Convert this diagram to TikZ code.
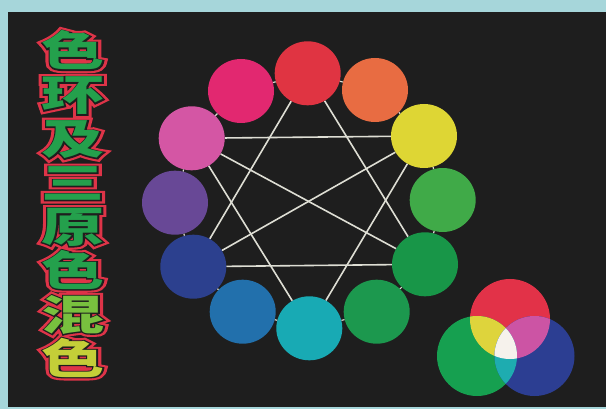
\documentclass[tikz,border=0pt]{standalone}
\usepackage{fontspec}
\newfontfamily\cjk{Noto Sans CJK SC}
\newfontfamily\cjkouter[FakeBold=15]{Noto Sans CJK SC}
\newfontfamily\cjkinner[FakeBold=5]{Noto Sans CJK SC}
\usetikzlibrary{shapes.geometric}
\definecolor{framec}{RGB}{166,214,218}
\definecolor{panelc}{RGB}{30,30,30}
\definecolor{linec}{RGB}{222,222,212}
\definecolor{tred}{RGB}{222,52,72}
\definecolor{tg}{RGB}{36,160,76}
\definecolor{tmix}{RGB}{120,192,62}
\definecolor{tyel}{RGB}{196,206,56}
\definecolor{k0}{RGB}{224,52,66}
\definecolor{k1}{RGB}{232,108,66}
\definecolor{k2}{RGB}{222,214,52}
\definecolor{k3}{RGB}{64,170,72}
\definecolor{k4}{RGB}{24,150,72}
\definecolor{k5}{RGB}{28,152,78}
\definecolor{k6}{RGB}{24,170,180}
\definecolor{k7}{RGB}{34,112,172}
\definecolor{k8}{RGB}{44,64,142}
\definecolor{k9}{RGB}{104,72,150}
\definecolor{k10}{RGB}{212,86,164}
\definecolor{k11}{RGB}{226,40,112}
\definecolor{mR}{RGB}{226,50,72}
\definecolor{mG}{RGB}{22,160,80}
\definecolor{mB}{RGB}{44,62,146}
\definecolor{mY}{RGB}{222,212,60}
\definecolor{mM}{RGB}{204,84,164}
\definecolor{mC}{RGB}{30,172,176}
\definecolor{mW}{RGB}{246,242,236}
\newcommand\titlecol[3]{%
  \scalebox{1.5}[1]{\color{#1}色}\\\scalebox{1.5}[1]{\color{#1}环}\\
  \scalebox{1.5}[1]{\color{#1}及}\\\scalebox{1.5}[1]{\color{#1}三}\\
  \scalebox{1.5}[1]{\color{#1}原}\\\scalebox{1.5}[1]{\color{#1}色}\\
  \scalebox{1.5}[1]{\color{#2}混}\\\scalebox{1.5}[1]{\color{#3}色}}
\begin{document}
\begin{tikzpicture}[x=1pt,y=-1pt,
  wheel/.style={ellipse,inner sep=0pt,minimum width=66pt,minimum height=64pt,fill=#1},
  link/.style={draw=linec,line width=1.6pt},
  titlecolumn/.style={align=center,inner sep=0pt,anchor=center,font=#1\bfseries\fontsize{42}{43.9}\selectfont}]
\useasboundingbox (0,0) rectangle (606,409);
\fill[framec] (0,0) rectangle (606,409);
\fill[panelc] (8,12) rectangle (606,407);
% title
\node[titlecolumn=\cjkouter] (tout) at (73,204) {\titlecol{tred}{tred}{tred}};
\node[titlecolumn=\cjkinner] (tmid) at (73,204) {\titlecol{panelc}{panelc}{panelc}};
\node[titlecolumn=\cjk] (title) at (73,204) {\titlecol{tg}{tmix}{tyel}};
% colour wheel
\node[wheel=k0] (c0) at (307.7,73.3) {};
\node[wheel=k1] (c1) at (375,90) {};
\node[wheel=k2] (c2) at (424,136) {};
\node[wheel=k3] (c3) at (442.7,200) {};
\node[wheel=k4] (c4) at (425,264.3) {};
\node[wheel=k5] (c5) at (376.7,311.7) {};
\node[wheel=k6] (c6) at (309.3,328.3) {};
\node[wheel=k7] (c7) at (242.7,311.7) {};
\node[wheel=k8] (c8) at (193.3,266.7) {};
\node[wheel=k9] (c9) at (175,202.7) {};
\node[wheel=k10] (c10) at (191.7,138.3) {};
\node[wheel=k11] (c11) at (241,91) {};
\foreach \p/\q in {0/1,1/2,2/3,3/4,4/5,5/6,6/7,7/8,8/9,9/10,10/11,11/0}
  \draw[link,line width=1.2pt] (c\p) -- (c\q);
\foreach \p/\q in {0/4,4/8,8/0,2/6,6/10,10/2,10/4,8/2}
  \draw[link] (c\p) -- (c\q);
% additive mixing
\coordinate (R) at (510,319);
\coordinate (G) at (477,356);
\coordinate (B) at (534.5,356);
\fill[mR] (R) circle (40pt);
\fill[mG] (G) circle (40pt);
\fill[mB] (B) circle (40pt);
\begin{scope}\clip (R) circle (40pt); \fill[mY] (G) circle (40pt); \end{scope}
\begin{scope}\clip (R) circle (40pt); \fill[mM] (B) circle (40pt); \end{scope}
\begin{scope}\clip (G) circle (40pt); \fill[mC] (B) circle (40pt); \end{scope}
\begin{scope}\clip (R) circle (40pt); \clip (G) circle (40pt); \fill[mW] (B) circle (40pt); \end{scope}
\end{tikzpicture}
\end{document}
